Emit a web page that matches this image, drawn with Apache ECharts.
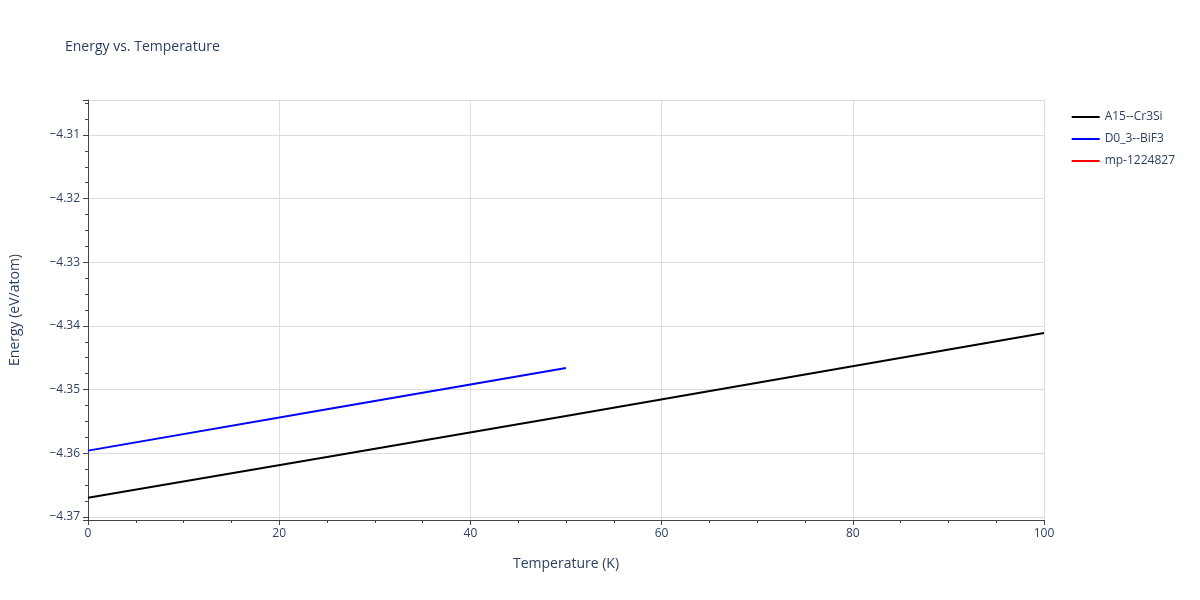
<!DOCTYPE html><html><head><meta charset="utf-8"><script src="https://cdn.jsdelivr.net/npm/echarts@6/dist/echarts.min.js"></script></head><body style="margin:0"><div id="c" style="width:1200px;height:600px"></div><script>
const seriesNames=['A15--Cr3Si','D0_3--BiF3','mp-1224827'];
const a15T=[0,25,50,75,100];
const a15E=[-4.36702,-4.36060,-4.35415,-4.34763,-4.34110];
const d03T=[0,25,50];
const d03E=[-4.3596,-4.3531,-4.3466];
const mpT=[];const mpE=[];
const fmt=v=>(v<0?'\u2212':'')+Math.abs(v).toFixed(2);
const z=(t,e)=>t.map((x,i)=>[x,e[i]]);
const ch=echarts.init(document.getElementById('c'));
const axisCommon={axisLine:{show:true,lineStyle:{color:'#444'}},axisTick:{show:true,length:5,lineStyle:{color:'#444'}},minorTick:{show:true,splitNumber:4,length:3,lineStyle:{color:'#444'}},splitLine:{show:true,lineStyle:{color:'#ddd'}},axisLabel:{color:'#2a3f5f',fontSize:12,fontFamily:'Open Sans'},nameTextStyle:{color:'#2a3f5f',fontSize:14,fontFamily:'Open Sans'}};
ch.setOption({animation:false,
title:{text:'Energy vs. Temperature',left:60,top:35,textStyle:{fontSize:14,fontWeight:'normal',color:'#2a3f5f',fontFamily:'Open Sans'}},
legend:{orient:'vertical',right:20,top:106,itemWidth:28,itemHeight:2,itemGap:10,icon:'rect',textStyle:{color:'#2a3f5f',fontSize:12,fontFamily:'Open Sans'},data:seriesNames},
grid:{left:81,right:156,top:100,bottom:80},
xAxis:Object.assign({},axisCommon,{type:'value',min:0,max:100,interval:20,name:'Temperature (K)',nameLocation:'middle',nameGap:37}),
yAxis:Object.assign({},axisCommon,{type:'value',min:-4.3705,max:-4.3045,name:'Energy (eV/atom)',nameLocation:'middle',nameGap:66,axisLabel:Object.assign({},axisCommon.axisLabel,{formatter:fmt,showMinLabel:false,showMaxLabel:false})}),
series:[
{name:seriesNames[0],type:'line',showSymbol:false,data:z(a15T,a15E),lineStyle:{color:'#000',width:2},itemStyle:{color:'#000'}},
{name:seriesNames[1],type:'line',showSymbol:false,data:z(d03T,d03E),lineStyle:{color:'#0000ff',width:2},itemStyle:{color:'#0000ff'}},
{name:seriesNames[2],type:'line',showSymbol:false,data:z(mpT,mpE),lineStyle:{color:'#ff0000',width:2},itemStyle:{color:'#ff0000'}}
]});
</script></body></html>
